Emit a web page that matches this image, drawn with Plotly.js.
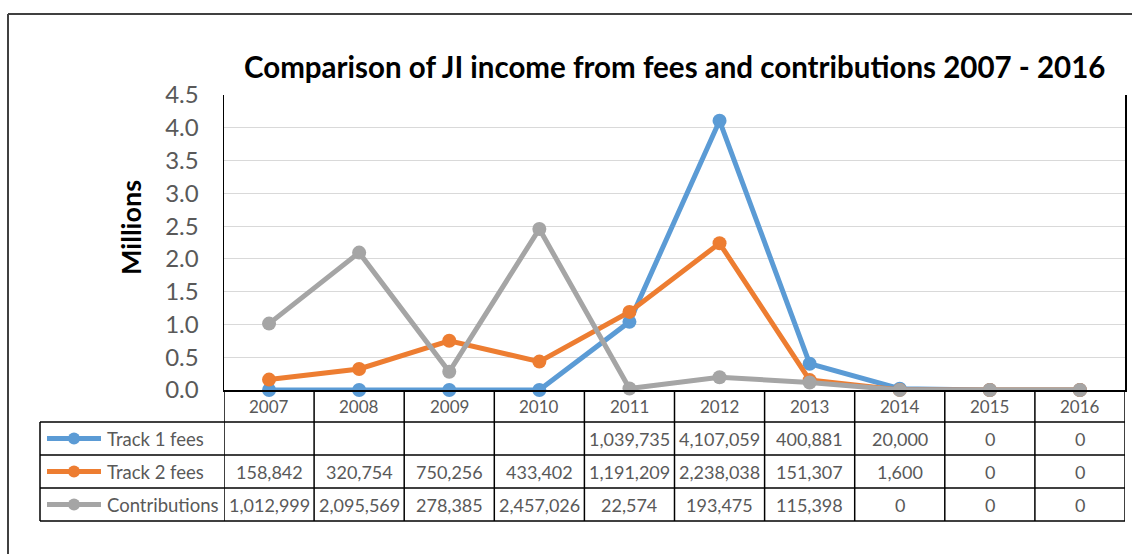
<!DOCTYPE html>
<html>
<head>
<meta charset="utf-8">
<script src="https://cdn.plot.ly/plotly-3.0.1.min.js"></script>
<style>html,body{margin:0;padding:0;background:#fff;}#chart{width:1132px;height:554px;}</style>
</head>
<body>
<div id="chart"></div>
<script>
// ---- data ----
const years = ['2007','2008','2009','2010','2011','2012','2013','2014','2015','2016'];
const seriesNames = ['Track 1 fees','Track 2 fees','Contributions'];
const track1Fees = [null, null, null, null, 1039735, 4107059, 400881, 20000, 0, 0];
const track2Fees = [158842, 320754, 750256, 433402, 1191209, 2238038, 151307, 1600, 0, 0];
const contributions = [1012999, 2095569, 278385, 2457026, 22574, 193475, 115398, 0, 0, 0];
const yTicks = [0, 0.5, 1.0, 1.5, 2.0, 2.5, 3.0, 3.5, 4.0, 4.5];
const titleText = 'Comparison of JI income from fees and contributions 2007 - 2016';
const yTitle = 'Millions';

// ---- styling / layout helpers ----
const colors = ['#5B9BD5', '#ED7D31', '#A5A5A5'];
const allSeries = [track1Fees, track2Fees, contributions];
const W = 1132, H = 554, L = 224, R = 1125, T = 95, B = 390;
const px = v => (v - L) / (R - L);
const py = v => (B - v) / (B - T);
const FONT = 'Lato, "Open Sans", sans-serif';
const GREY = '#595959';

const traces = allSeries.map((s, i) => ({
  type: 'scatter', mode: 'lines+markers', name: seriesNames[i],
  x: years, y: s.map(v => (v == null ? 0 : v) / 1e6),  // Excel plots blank cells as zero
  line: {color: colors[i], width: 5},
  marker: {color: colors[i], size: 14},
  cliponaxis: false, hoverinfo: 'skip'
}));

const shapes = [];
const annotations = [];
const lineStyle = {color: '#000', width: 1.5};

// outer chart frame
shapes.push({type: 'line', xref: 'paper', yref: 'paper', x0: px(8), x1: px(1140), y0: py(14), y1: py(14), line: {color: '#404040', width: 2}});
shapes.push({type: 'line', xref: 'paper', yref: 'paper', x0: px(8), x1: px(8), y0: py(14), y1: py(560), line: {color: '#404040', width: 2}});

// data table
const rowEdges = [422, 455, 488, 521];
rowEdges.forEach(r => shapes.push({type: 'line', xref: 'paper', yref: 'paper', x0: px(40), x1: px(R), y0: py(r), y1: py(r), line: lineStyle}));
shapes.push({type: 'line', xref: 'paper', yref: 'paper', x0: px(40), x1: px(40), y0: py(422), y1: py(521), line: lineStyle});
for (let k = 0; k <= years.length; k++) {
  shapes.push({type: 'line', xref: 'x', yref: 'paper', x0: k - 0.5, x1: k - 0.5, y0: py(B), y1: py(521), line: lineStyle});
}
// year labels (category index positions)
years.forEach((y, j) => annotations.push({xref: 'x', yref: 'paper', x: j, y: py(406), text: y, showarrow: false, font: {family: FONT, size: 17, color: GREY}, xanchor: 'center', yanchor: 'middle'}));
// rows
const rowCenters = [438.5, 471.5, 504.5];
allSeries.forEach((s, i) => {
  const yc = rowCenters[i];
  shapes.push({type: 'line', xref: 'paper', yref: 'paper', x0: px(47), x1: px(101), y0: py(yc), y1: py(yc), line: {color: colors[i], width: 5}});
  shapes.push({type: 'circle', xref: 'paper', yref: 'paper', x0: px(68), x1: px(80), y0: py(yc - 6), y1: py(yc + 6), fillcolor: colors[i], line: {width: 0}});
  annotations.push({xref: 'paper', yref: 'paper', x: px(105), y: py(yc), text: seriesNames[i], showarrow: false, xanchor: 'left', yanchor: 'middle', font: {family: FONT, size: 18.5, color: GREY}});
  s.forEach((v, j) => {
    if (v == null) return;
    annotations.push({xref: 'x', yref: 'paper', x: j, y: py(yc), text: v.toLocaleString('en-US'), showarrow: false, xanchor: 'center', yanchor: 'middle', font: {family: FONT, size: 18, color: GREY}});
  });
});
// axis title
annotations.push({xref: 'paper', yref: 'paper', x: px(130), y: py(228), text: '<b>' + yTitle + '</b>', textangle: -90, showarrow: false, xanchor: 'center', yanchor: 'middle', font: {family: FONT, size: 27, color: '#000'}});
// chart title
annotations.push({xref: 'paper', yref: 'paper', x: px(674), y: py(66), text: '<b>' + titleText + '</b>', showarrow: false, xanchor: 'center', yanchor: 'middle', font: {family: FONT, size: 29.5, color: '#000'}});

const layout = {
  width: W, height: H,
  margin: {l: L, r: W - R, t: T, b: H - B, pad: 0},
  paper_bgcolor: '#fff', plot_bgcolor: '#fff',
  showlegend: false,
  xaxis: {type: 'category', range: [-0.5, years.length - 0.5], showticklabels: false, showgrid: false, zeroline: false,
          showline: true, linecolor: '#000', linewidth: 1.5, ticks: '', fixedrange: true},
  yaxis: {range: [0, 4.5], tickvals: yTicks, ticktext: yTicks.map(v => v.toFixed(1)), showgrid: true, gridcolor: '#D9D9D9', gridwidth: 1.2,
          zeroline: false, showline: true, mirror: true, linecolor: '#000', linewidth: 1.5, ticks: '', ticklabelstandoff: 19,
          tickfont: {family: FONT, size: 24, color: GREY}, fixedrange: true},
  shapes: shapes,
  annotations: annotations
};

Plotly.newPlot('chart', traces, layout, {displayModeBar: false, staticPlot: true});
</script>
</body>
</html>
